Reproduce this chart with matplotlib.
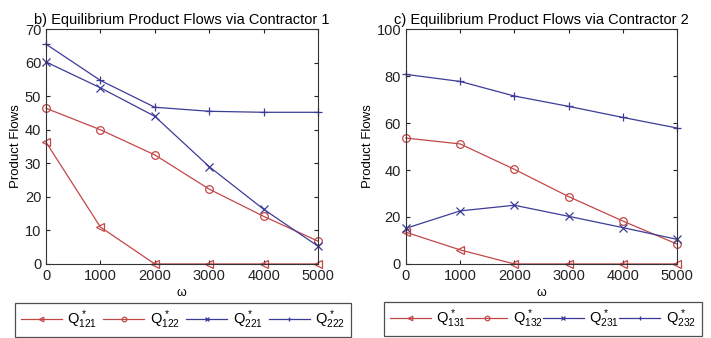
import matplotlib.pyplot as plt

plt.rcParams['font.family'] = ['Liberation Sans', 'DejaVu Sans']
plt.rcParams['mathtext.fontset'] = 'custom'
plt.rcParams['mathtext.rm'] = 'Liberation Sans'
plt.rcParams['mathtext.it'] = 'Liberation Sans'

omega = [0, 1000, 2000, 3000, 4000, 5000]

# contractor 1
q121 = [36.3, 11.0, 0, 0, 0, 0]
q122 = [46.4, 40.0, 32.5, 22.3, 14.2, 6.8]
q221 = [60.2, 52.5, 44.0, 29.0, 16.3, 5.3]
q222 = [65.5, 54.7, 46.7, 45.5, 45.2, 45.2]

# contractor 2
q131 = [13.5, 6.0, 0, 0, 0, 0]
q132 = [53.6, 51.1, 40.3, 28.7, 18.3, 8.5]
q231 = [15.2, 22.6, 25.0, 20.3, 15.5, 10.5]
q232 = [80.7, 77.7, 71.5, 67.1, 62.4, 57.9]

RED = '#c24848'
BLUE = '#3c3c98'


def draw_panel(axe, series, labels, title, ymax, yticks, legend_box):
    styles = [(RED, '<'), (RED, 'o'), (BLUE, 'x'), (BLUE, '+')]
    for values, label, (color, marker) in zip(series, labels, styles):
        axe.plot(omega, values, color=color, marker=marker, lw=0.9,
                 markersize=5.5, markerfacecolor='none', markeredgewidth=0.9,
                 label=label, clip_on=False)
    axe.set_xlim(0, 5000)
    axe.set_ylim(0, ymax)
    axe.set_xticks(omega)
    axe.set_yticks(yticks)
    axe.tick_params(direction='in', top=True, right=True, labelsize=10.5,
                    length=3, width=0.8, colors='#222222')
    for spine in axe.spines.values():
        spine.set_color('#333333')
        spine.set_linewidth(0.8)
    axe.set_title(title, fontsize=10.5, pad=4)
    axe.set_xlabel(r'$\omega$', fontsize=9, labelpad=3)
    axe.set_ylabel('Product Flows', fontsize=9.5, labelpad=2)
    leg = axe.legend(loc='lower left', bbox_to_anchor=legend_box,
                     bbox_transform=axe.figure.transFigure, mode='expand',
                     ncol=4, fontsize=10.5, frameon=True, fancybox=False,
                     borderaxespad=0, handlelength=2.8, markerscale=0.6,
                     columnspacing=1.0, handletextpad=0.4, borderpad=0.4)
    leg.get_frame().set_edgecolor('#222222')
    leg.get_frame().set_linewidth(0.9)


fig = plt.figure(figsize=(7.11, 3.38), dpi=100)
ax1 = fig.add_axes([0.0647, 0.219, 0.3826, 0.695])
ax2 = fig.add_axes([0.571, 0.219, 0.381, 0.695])

draw_panel(ax1, [q121, q122, q221, q222],
           [r'$Q^*_{121}$', r'$Q^*_{122}$', r'$Q^*_{221}$', r'$Q^*_{222}$'],
           'b) Equilibrium Product Flows via Contractor 1', 70,
           range(0, 71, 10), (0.021, 0.003, 0.473, 0.127))
draw_panel(ax2, [q131, q132, q231, q232],
           [r'$Q^*_{131}$', r'$Q^*_{132}$', r'$Q^*_{231}$', r'$Q^*_{232}$'],
           'c) Equilibrium Product Flows via Contractor 2', 100,
           range(0, 101, 20), (0.540, 0.006, 0.447, 0.127))

fig.savefig('out.png', dpi=100)
